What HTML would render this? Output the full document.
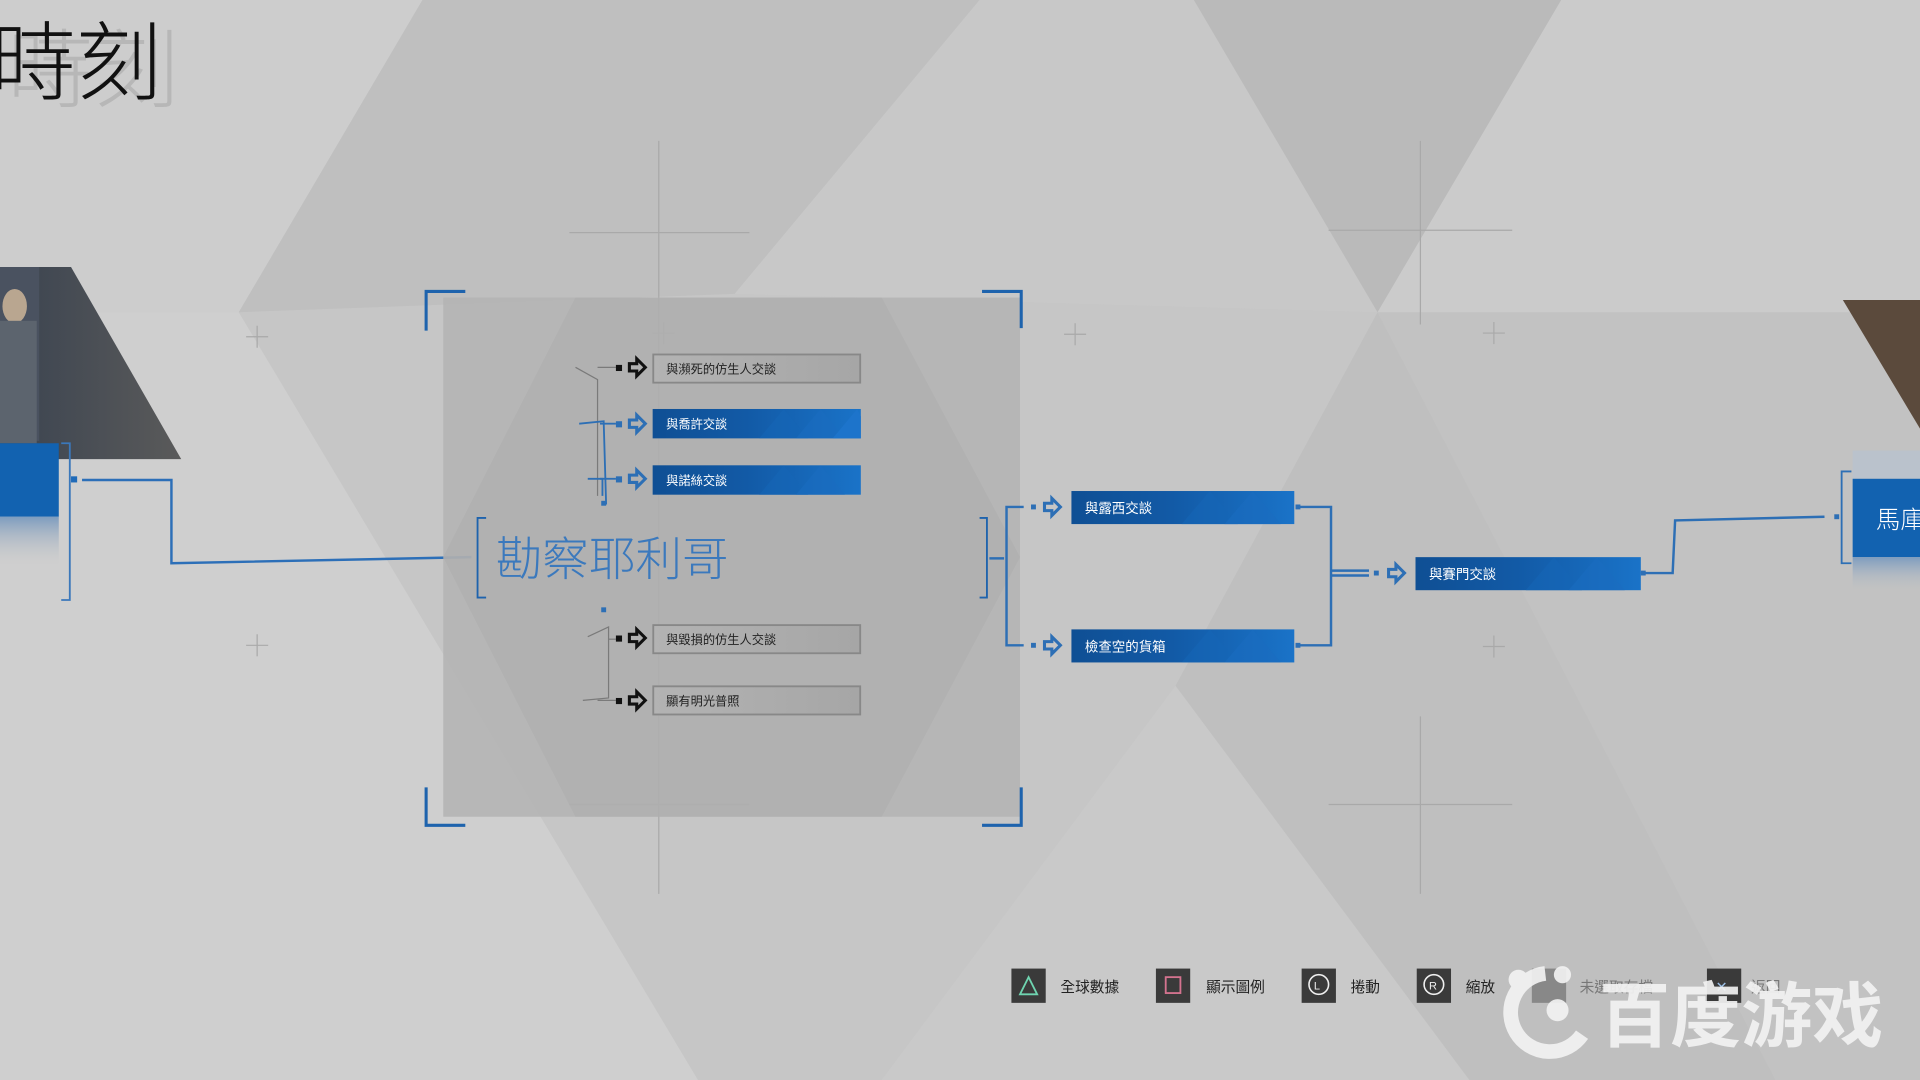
<!DOCTYPE html>
<html><head><meta charset="utf-8"><style>
html,body{margin:0;padding:0;width:1920px;height:1080px;overflow:hidden;background:#c6c6c6}
svg{display:block}
text{font-family:"Liberation Sans","Noto Sans CJK TC",sans-serif}
.lt{font-family:"Noto Sans CJK TC Light","Noto Sans CJK TC","Liberation Sans",sans-serif;font-weight:300}
</style></head><body>
<svg width="1920" height="1080" viewBox="0 0 1568 882" preserveAspectRatio="none" xmlns="http://www.w3.org/2000/svg">
<defs>
<linearGradient id="bl" x1="0" x2="1"><stop offset="0" stop-color="#0f4f94"/><stop offset="0.45" stop-color="#125aa6"/><stop offset="1" stop-color="#1a73c8"/></linearGradient>
<linearGradient id="gb" x1="0" x2="1"><stop offset="0" stop-color="#b3b3b3"/><stop offset="1" stop-color="#a6a6a6"/></linearGradient>
<linearGradient id="fade" x1="0" y1="0" x2="0" y2="1"><stop offset="0" stop-color="#7d9cbf"/><stop offset="1" stop-color="#c6c6c6" stop-opacity="0"/></linearGradient>
<linearGradient id="ph" x1="0" x2="1"><stop offset="0" stop-color="#3a4350"/><stop offset="1" stop-color="#5a5a5a"/></linearGradient>
<path id="arB" d="M0,-3 h6 v-4 l7,7 l-7,7 v-4 h-6 z" fill="none" stroke="#111" stroke-width="2.5" stroke-linejoin="miter"/>
<path id="arU" d="M0,-3 h6 v-4 l7,7 l-7,7 v-4 h-6 z" fill="none" stroke="#2d6fb5" stroke-width="2.5" stroke-linejoin="miter"/>
</defs>
<rect width="1568" height="882" fill="#c6c6c6"/>
<polygon points="0,0 345,0 195,255 0,255" fill="#cdcdcd"/>
<polygon points="345,0 800,0 600,240 195,255" fill="#bfbfbf"/>
<polygon points="800,0 975,0 1125,255 600,240" fill="#c8c8c8"/>
<polygon points="975,0 1275,0 1125,255" fill="#bababa"/>
<polygon points="1275,0 1568,0 1568,255 1125,255" fill="#cbcbcb"/>
<polygon points="0,255 195,255 570,882 0,882" fill="#cfcfcf"/>
<polygon points="1125,255 1568,255 1568,882 1450,882" fill="#c2c2c2"/>
<polygon points="960,560 1200,882 720,882" fill="#c9c9c9"/>
<polygon points="1125,255 1450,882 1200,882 960,560" fill="#bfbfbf"/>
<g stroke="#a9a9a9" stroke-width="1">
<line x1="538" y1="115" x2="538" y2="730"/><line x1="465" y1="190" x2="612" y2="190"/><line x1="465" y1="657" x2="612" y2="657"/>
<line x1="1160" y1="115" x2="1160" y2="265"/><line x1="1085" y1="188" x2="1235" y2="188"/>
<line x1="1160" y1="585" x2="1160" y2="730"/><line x1="1085" y1="657" x2="1235" y2="657"/>
<line x1="201" y1="275" x2="219" y2="275"/><line x1="210" y1="266" x2="210" y2="284"/>
<line x1="201" y1="527" x2="219" y2="527"/><line x1="210" y1="518" x2="210" y2="536"/>
<line x1="869" y1="273" x2="887" y2="273"/><line x1="878" y1="264" x2="878" y2="282"/>
<line x1="1211" y1="272" x2="1229" y2="272"/><line x1="1220" y1="263" x2="1220" y2="281"/>
<line x1="1211" y1="528" x2="1229" y2="528"/><line x1="1220" y1="519" x2="1220" y2="537"/>
<line x1="533" y1="272" x2="551" y2="272"/><line x1="542" y1="263" x2="542" y2="281"/>
</g>
<text class="lt" x="6" y="82" font-size="70" fill="#aaaaaa" opacity="0.6">時刻</text>
<text class="lt" x="-8" y="76" font-size="70" fill="#111">時刻</text>
<polygon points="0,218 58,218 148,375 0,375" fill="url(#ph)"/>
<polygon points="0,218 32,218 32,360 0,360" fill="#4a5260"/>
<ellipse cx="12" cy="250" rx="10" ry="14" fill="#b9a690"/>
<rect x="0" y="262" width="30" height="100" fill="#5c646e"/>
<rect x="0" y="362" width="48" height="60" fill="#1262b0"/>
<rect x="0" y="422" width="48" height="40" fill="url(#fade)"/>
<polyline points="50,362 57,362 57,490 50,490" fill="none" stroke="#3b78bb" stroke-width="1.5"/>
<rect x="58" y="389" width="5" height="5" fill="#1f6ab8"/>
<polyline points="67,392 140,392 140,460 385,455" fill="none" stroke="#2c6fb8" stroke-width="2"/>
<rect x="362" y="243" width="471" height="424" fill="#b3b3b3" opacity="0.85"/>
<polygon points="470,243 720,243 833,455 720,667 470,667 362,455" fill="#ababab" opacity="0.5"/>
<g fill="none" stroke="#1e63ad" stroke-width="2.5">
<polyline points="348,270 348,238 380,238"/><polyline points="802,238 834,238 834,268"/>
<polyline points="348,643 348,674 380,674"/><polyline points="802,674 834,674 834,643"/>
<polyline points="397,423 390,423 390,488 397,488" stroke-width="1.5"/>
<polyline points="800,423 806,423 806,488 800,488" stroke-width="1.5"/>
</g>
<text class="lt" x="405" y="470" font-size="38" fill="#3b79bd">勘察耶利哥</text>
<g fill="none" stroke="#7a7a7a" stroke-width="1">
<polyline points="470,300 488,310 488,405"/><line x1="488" y1="300" x2="503" y2="300"/>
<polyline points="480,520 497,512 497,570 476,572"/><line x1="497" y1="522" x2="503" y2="522"/><line x1="488" y1="572" x2="503" y2="572"/>
</g>
<g fill="none" stroke="#2d6fb5" stroke-width="1.5">
<polyline points="473,346 493,344 495,412"/><line x1="490" y1="346" x2="503" y2="346"/>
<polyline points="480,391 492,391 492,405"/><line x1="490" y1="391" x2="503" y2="391"/>
</g>
<rect x="491" y="409" width="4" height="4" fill="#2d6fb5"/><rect x="491" y="496" width="4" height="4" fill="#2d6fb5"/>
<g font-size="10">
<rect x="503" y="298" width="5" height="5" fill="#111"/><use href="#arB" x="514" y="300"/>
<rect x="533.5" y="289.5" width="169" height="23" fill="url(#gb)" stroke="#888" stroke-width="1.5"/><text x="544" y="305" fill="#222">與瀕死的仿生人交談</text>
<rect x="503" y="344" width="5" height="5" fill="#2d6fb5"/><use href="#arU" x="514" y="346"/>
<rect x="533" y="334" width="170" height="24" fill="url(#bl)"/>
<polygon points="620,358 640,334 660,358" fill="#1565b5" opacity="0.6"/><polygon points="650,358 670,334 690,358" fill="#1a6cc0" opacity="0.6"/><polygon points="680,358 700,334 703,340 703,358" fill="#1d74cb"/>
<text x="544" y="350" fill="#fff">與喬許交談</text>
<rect x="503" y="389" width="5" height="5" fill="#2d6fb5"/><use href="#arU" x="514" y="391"/>
<rect x="533" y="380" width="170" height="24" fill="url(#bl)"/>
<polygon points="620,404 640,380 660,404" fill="#1565b5" opacity="0.6"/><polygon points="650,404 670,380 690,404" fill="#1a6cc0" opacity="0.6"/>
<text x="544" y="396" fill="#fff">與諾絲交談</text>
<rect x="503" y="519" width="5" height="5" fill="#111"/><use href="#arB" x="514" y="521"/>
<rect x="533.5" y="510.5" width="169" height="23" fill="url(#gb)" stroke="#888" stroke-width="1.5"/><text x="544" y="526" fill="#222">與毀損的仿生人交談</text>
<rect x="503" y="570" width="5" height="5" fill="#111"/><use href="#arB" x="514" y="572"/>
<rect x="533.5" y="560.5" width="169" height="23" fill="url(#gb)" stroke="#888" stroke-width="1.5"/><text x="544" y="576" fill="#222">顯有明光普照</text>
</g>
<g fill="none" stroke="#2d6fb5" stroke-width="2">
<line x1="808" y1="456" x2="820" y2="456"/>
<polyline points="836,414 822,414 822,527 836,527"/>
<polyline points="1058,414 1087,414 1087,527 1058,527"/>
<line x1="1087" y1="466" x2="1118" y2="466"/><line x1="1087" y1="470" x2="1118" y2="470"/>
<polyline points="1340,468 1366,468 1368,425 1490,422"/>
<polyline points="1512,385 1504,385 1504,460 1512,460" stroke-width="1.5"/>
</g>
<g font-size="11">
<rect x="842" y="412" width="4" height="4" fill="#2d6fb5"/><use href="#arU" x="853" y="414"/>
<rect x="875" y="401" width="182" height="27" fill="url(#bl)"/>
<polygon points="965,428 988,401 1011,428" fill="#1565b5" opacity="0.6"/><polygon points="1000,428 1023,401 1046,428" fill="#1a6cc0" opacity="0.6"/>
<text x="886" y="419" fill="#fff">與露西交談</text>
<rect x="842" y="525" width="4" height="4" fill="#2d6fb5"/><use href="#arU" x="853" y="527"/>
<rect x="875" y="514" width="182" height="27" fill="url(#bl)"/>
<polygon points="965,541 988,514 1011,541" fill="#1565b5" opacity="0.6"/><polygon points="1000,541 1023,514 1046,541" fill="#1a6cc0" opacity="0.6"/>
<text x="886" y="532" fill="#fff">檢查空的貨箱</text>
<rect x="1122" y="466" width="4" height="4" fill="#2d6fb5"/><use href="#arU" x="1134" y="468"/>
<rect x="1156" y="455" width="184" height="27" fill="url(#bl)"/>
<polygon points="1246,482 1269,455 1292,482" fill="#1565b5" opacity="0.6"/><polygon points="1281,482 1304,455 1327,482" fill="#1a6cc0" opacity="0.6"/>
<text x="1167" y="473" fill="#fff">與賽門交談</text>
</g>
<rect x="1058" y="412" width="4" height="4" fill="#2d6fb5"/><rect x="1058" y="525" width="4" height="4" fill="#2d6fb5"/><rect x="1340" y="466" width="4" height="4" fill="#2d6fb5"/><rect x="1498" y="420" width="4" height="4" fill="#2d6fb5"/>
<polygon points="1505,245 1568,245 1568,350" fill="#5b4a3c"/>
<rect x="1513" y="368" width="55" height="23" fill="#b4c2d2" opacity="0.6"/>
<rect x="1513" y="391" width="55" height="64" fill="#1262b0"/>
<rect x="1513" y="455" width="55" height="30" fill="url(#fade)"/>
<text class="lt" x="1532" y="431" font-size="20" fill="#fff">馬庫</text>
<g font-size="12" fill="#222">
<rect x="826" y="791" width="28" height="28" fill="#3a3a3a"/><polygon points="840,798 847,812 833,812" fill="none" stroke="#6fd4b0" stroke-width="1.5"/><text x="866" y="810">全球數據</text>
<rect x="944" y="791" width="28" height="28" fill="#3a3a3a"/><rect x="952" y="798" width="12" height="13" fill="none" stroke="#d4738f" stroke-width="1.5"/><text x="985" y="810">顯示圖例</text>
<rect x="1063" y="791" width="28" height="28" fill="#3a3a3a"/><circle cx="1077" cy="804" r="8" fill="none" stroke="#eee" stroke-width="1.3"/><text x="1073" y="808" font-size="9" fill="#eee">L</text><text x="1103" y="810">捲動</text>
<rect x="1157" y="791" width="28" height="28" fill="#3a3a3a"/><circle cx="1171" cy="804" r="8" fill="none" stroke="#eee" stroke-width="1.3"/><text x="1167" y="808" font-size="9" fill="#eee">R</text><text x="1197" y="810">縮放</text>
<rect x="1251" y="791" width="28" height="28" fill="#888"/><text x="1290" y="810" fill="#777">未選取存檔</text>
<rect x="1394" y="791" width="28" height="28" fill="#3a3a3a"/><text x="1401" y="810" fill="#9cc0e8">✕</text><text x="1430" y="810" fill="#777">返回</text>
</g>
<g fill="#f2f2f2" opacity="0.92">
<path d="M1262,795 a32,32 0 1 0 30,50" fill="none" stroke="#f2f2f2" stroke-width="12"/>
<circle cx="1272" cy="825" r="9"/>
<circle cx="1240" cy="800" r="8"/><circle cx="1276" cy="796" r="7"/>
<text x="1306" y="850" font-size="58" font-weight="bold">百度游戏</text>
</g>
</svg>
</body></html>
